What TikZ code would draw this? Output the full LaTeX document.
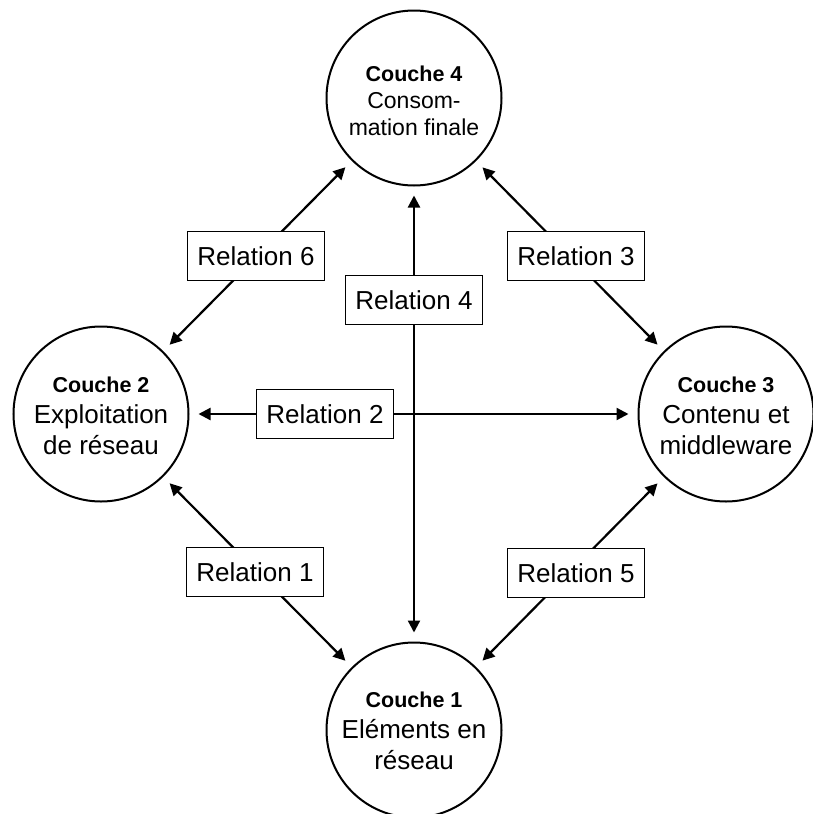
\documentclass[tikz,border=0pt]{standalone}
\usepackage{fontspec}
\setmainfont{Liberation Sans}
\usetikzlibrary{arrows.meta}
\tikzset{
  layer/.style={circle, draw=black, line width=2pt, minimum size=175pt, inner sep=0pt},
  layertext/.style={align=center, inner sep=0pt, font=\fontsize{26}{31}\selectfont},
  relbox/.style={rectangle, draw=black, fill=white, line width=1.2pt, minimum width=137pt, minimum height=49pt, inner sep=0pt, font=\fontsize{26}{31}\selectfont},
  conn/.style={line width=2.2pt, {Triangle[length=12pt,width=12pt]}-{Triangle[length=12pt,width=12pt]}, shorten >=9pt, shorten <=9pt},
}
\newcommand{\ctitle}[1]{{\bfseries\fontsize{21.5}{31}\selectfont #1}}
\begin{document}
\begin{tikzpicture}[x=1pt,y=-1pt]
\useasboundingbox (0,0) rectangle (812,814);
\node[layer] (c4) at (414,98) {};
\node[layer] (c1) at (414,730) {};
\node[layer] (c2) at (101,414) {};
\node[layer] (c3) at (726,414) {};
\node[layertext, font=\fontsize{23}{27}\selectfont] (c4t) at (414,101) {\ctitle{Couche 4}\\Consom-\\mation finale};
\node[layertext] (c1t) at (414,731) {\ctitle{Couche 1}\\Eléments en\\réseau};
\node[layertext] (c2t) at (101,416) {\ctitle{Couche 2}\\Exploitation\\de réseau};
\node[layertext] (c3t) at (726,416) {\ctitle{Couche 3}\\Contenu et\\middleware};
\draw[conn] (c4) -- (c2);
\draw[conn] (c4) -- (c3);
\draw[conn] (c1) -- (c2);
\draw[conn] (c1) -- (c3);
\draw[conn] (c4) -- (c1);
\draw[conn] (c2) -- (c3);
\node[relbox] (r6) at (256,256) {Relation 6};
\node[relbox] (r3) at (576,256) {Relation 3};
\node[relbox] (r1) at (255,572) {Relation 1};
\node[relbox] (r5) at (576,573) {Relation 5};
\node[relbox] (r4) at (414,300) {Relation 4};
\node[relbox] (r2) at (325,414) {Relation 2};
\end{tikzpicture}
\end{document}
